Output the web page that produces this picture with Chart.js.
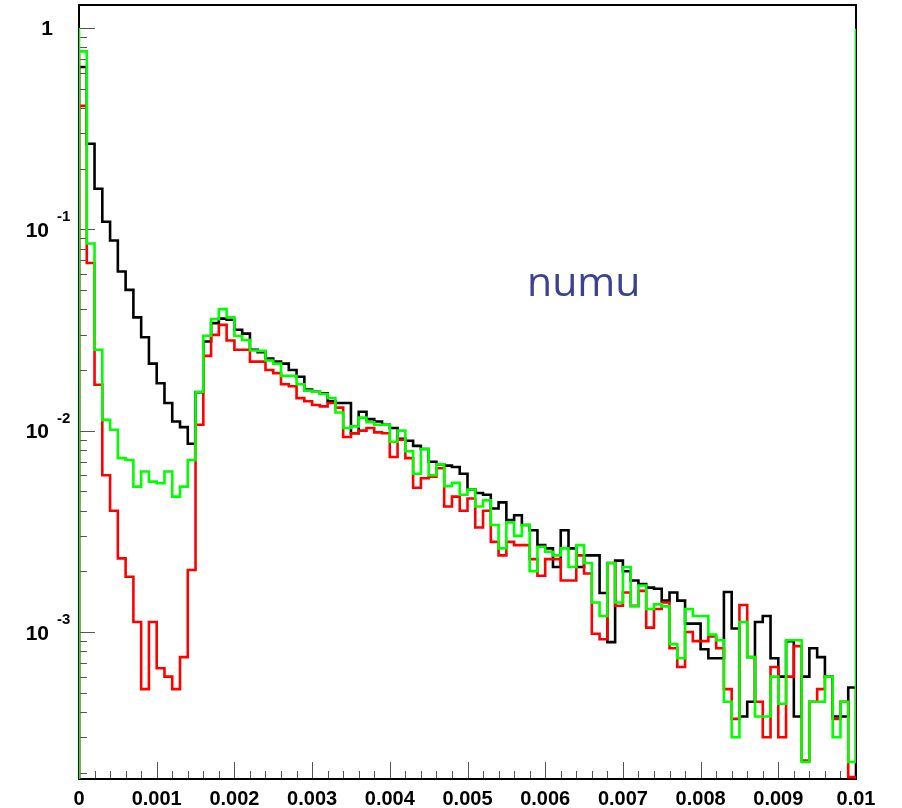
<!DOCTYPE html>
<html>
<head>
<meta charset="utf-8">
<script src="https://cdn.jsdelivr.net/npm/chart.js@4.4.1/dist/chart.umd.min.js"></script>
<style>
  html, body { margin: 0; padding: 0; background: #fff; }
</style>
</head>
<body>
<canvas id="numuChart" width="902" height="808"></canvas>
<script>
// histogram binning and axis range
const xLow = 0, xHigh = 0.01, nBins = 100;
const yLow = 1.86e-4, yHigh = 1.3;

const blackVals = [
  0.64, 0.266, 0.159, 0.109, 0.088, 0.0617, 0.050, 0.0365, 0.0291, 0.0215,
  0.0172, 0.0137, 0.0111, 0.0104, 0.0086, 0.0155, 0.0277, 0.0342, 0.036, 0.0355,
  0.0317, 0.0303, 0.0252, 0.0245, 0.0228, 0.0220, 0.0215, 0.0200, 0.0185, 0.0160,
  0.0156, 0.0153, 0.0140, 0.0137, 0.0137, 0.0097, 0.0124, 0.0114, 0.0111, 0.0107,
  0.0103, 0.0091, 0.0089, 0.0084, 0.0081, 0.0070, 0.0068, 0.0067, 0.0066, 0.0061,
  0.0051, 0.0049, 0.0048, 0.0041, 0.0044, 0.0036, 0.0038, 0.0034, 0.0032, 0.0027,
  0.0026, 0.0021, 0.0032, 0.0026, 0.0021, 0.0024, 0.0024, 0.00156, 0.00089, 0.00226,
  0.0020, 0.0018, 0.00173, 0.00166, 0.00164, 0.00143, 0.00157, 0.00143, 0.0011, 0.0011,
  0.00082, 0.00074, 0.00074, 0.00158, 0.00104, 0.00038, 0.00045, 0.00112, 0.0012, 0.00074,
  0.0006, 0.0009, 0.00038, 0.0006, 0.00083, 0.00075, 0.0006, 0.00038, 0.00038, 0.00053
];

const redVals = [
  0.41, 0.068, 0.0169, 0.0060, 0.0040, 0.00232, 0.00188, 0.00112, 0.00052, 0.00112,
  0.00066, 0.0006, 0.00052, 0.00075, 0.00203, 0.0107, 0.0235, 0.0299, 0.0335, 0.028,
  0.0252, 0.0252, 0.022, 0.022, 0.020, 0.0193, 0.017, 0.0166, 0.0145, 0.0140,
  0.0134, 0.0132, 0.0137, 0.0130, 0.0093, 0.0097, 0.0100, 0.0103, 0.0098, 0.0097,
  0.0074, 0.0090, 0.0073, 0.0052, 0.0058, 0.0059, 0.0065, 0.0042, 0.0047, 0.0040,
  0.0046, 0.0033, 0.0040, 0.0028, 0.0024, 0.0028, 0.0027, 0.0027, 0.0023, 0.0019,
  0.0023, 0.0023, 0.0018, 0.0018, 0.0024, 0.00195, 0.00098, 0.00092, 0.0022, 0.00135,
  0.00157, 0.00135, 0.0016, 0.00105, 0.0013, 0.0014, 0.00083, 0.00067, 0.001, 0.0009,
  0.0009, 0.00095, 0.00083, 0.00052, 0.00037, 0.00136, 0.00075, 0.00045, 0.0003, 0.00067,
  0.0003, 0.0006, 0.00085, 0.00023, 0.00045, 0.00052, 0.0006, 0.00037, 0.00045, 0.00019
];

const greenVals = [
  0.765, 0.085, 0.0252, 0.0113, 0.0101, 0.0073, 0.00715, 0.00527, 0.00626, 0.00558,
  0.00548, 0.00626, 0.0047, 0.00527, 0.00715, 0.0156, 0.0296, 0.0358, 0.0401, 0.0365,
  0.0295, 0.0282, 0.0250, 0.0249, 0.0223, 0.0215, 0.0187, 0.0187, 0.0170, 0.0158,
  0.0156, 0.0152, 0.0145, 0.0123, 0.0103, 0.0105, 0.0116, 0.0110, 0.0107, 0.0107,
  0.0088, 0.0100, 0.0079, 0.0061, 0.0081, 0.0060, 0.0068, 0.0053, 0.0055, 0.0048,
  0.0051, 0.0042, 0.0045, 0.0034, 0.0026, 0.0035, 0.0030, 0.0034, 0.0020, 0.00265,
  0.0025, 0.0024, 0.0026, 0.0021, 0.0027, 0.0022, 0.0014, 0.0012, 0.0022, 0.0014,
  0.0021, 0.00134, 0.0017, 0.0013, 0.00137, 0.00134, 0.00087, 0.00074, 0.0013, 0.0012,
  0.0012, 0.00097, 0.00091, 0.00045, 0.0003, 0.00112, 0.00075, 0.00038, 0.00038, 0.0006,
  0.00044, 0.00091, 0.00091, 0.000226, 0.00045, 0.00045, 0.0006, 0.0003, 0.00045, 0.000226
];

// spikes drawn at the left / right edge of the histograms (null = none)
const blackEdge = [null, null];
const redEdge = [0.75, null];
const greenEdge = [1.0, 0.99];

const xTicks = [0, 0.001, 0.002, 0.003, 0.004, 0.005, 0.006, 0.007, 0.008, 0.009, 0.01];
const xMinorStep = 0.0002;
const yDecades = [0, -1, -2, -3];
const plotLabel = 'numu';

const labelFont = '"Liberation Sans Narrow", "Liberation Sans", sans-serif';

function histPoints(vals, edge) {
  const w = (xHigh - xLow) / nBins;
  const pts = [{ x: xLow, y: yLow }];
  if (edge[0] != null) pts.push({ x: xLow, y: edge[0] });
  vals.forEach((v, i) => pts.push({ x: xLow + i * w, y: v }));
  pts.push({ x: xHigh, y: vals[vals.length - 1] });
  pts.push({ x: xHigh, y: edge[1] != null ? edge[1] : yLow });
  return pts;
}

// ROOT style frame, inner ticks and y labels with exponents
const rootAxes = {
  id: 'rootAxes',
  beforeDatasetsDraw(chart) {
    const ctx = chart.ctx, a = chart.chartArea;
    const xs = chart.scales.x, ys = chart.scales.y;
    ctx.save();
    ctx.strokeStyle = '#555';
    ctx.lineWidth = 1;
    ctx.beginPath();
    const nMinor = Math.round((xHigh - xLow) / xMinorStep);
    for (let k = 0; k <= nMinor; k++) {
      const px = Math.round(xs.getPixelForValue(xLow + k * xMinorStep)) + 0.5;
      const len = k % 5 === 0 ? 17 : 8;
      ctx.moveTo(px, a.bottom);
      ctx.lineTo(px, a.bottom - len);
    }
    for (let d = -4; d <= 0; d++) {
      for (let m = 1; m <= 9; m++) {
        const v = m * Math.pow(10, d);
        if (v < yLow || v > yHigh) continue;
        const py = Math.round(ys.getPixelForValue(v)) + 0.5;
        ctx.moveTo(a.left, py);
        ctx.lineTo(a.left + (m === 1 ? 16 : 8), py);
      }
    }
    ctx.stroke();
    ctx.strokeStyle = '#000';
    ctx.lineWidth = 2;
    ctx.strokeRect(a.left, a.top, a.right - a.left, a.bottom - a.top);
    ctx.restore();
  },
  afterDatasetsDraw(chart) {
    const ctx = chart.ctx, ys = chart.scales.y;
    ctx.save();
    ctx.fillStyle = '#000';
    ctx.textBaseline = 'middle';
    yDecades.forEach(e => {
      const py = ys.getPixelForValue(Math.pow(10, e));
      ctx.font = 'bold 21px ' + labelFont;
      ctx.textAlign = 'right';
      if (e === 0) {
        ctx.fillText('1', 53, py + 1);
      } else {
        ctx.fillText('10', 49, py + 2);
        ctx.font = 'bold 15px ' + labelFont;
        ctx.textAlign = 'left';
        ctx.fillText(String(e), 57, py - 12);
      }
    });
    ctx.font = '500 41px "Open Sans"';
    ctx.fillStyle = '#3c4292';
    ctx.textAlign = 'left';
    ctx.textBaseline = 'alphabetic';
    ctx.fillText(plotLabel, 527, 296);
    ctx.restore();
  }
};

const common = { borderWidth: 2.6, pointRadius: 0, stepped: true, fill: false, tension: 0 };

new Chart(document.getElementById('numuChart'), {
  type: 'line',
  data: {
    datasets: [
      Object.assign({ label: 'black', data: histPoints(blackVals, blackEdge), borderColor: '#000000', order: 2 }, common),
      Object.assign({ label: 'red', data: histPoints(redVals, redEdge), borderColor: '#ff0000', order: 1 }, common),
      Object.assign({ label: 'green', data: histPoints(greenVals, greenEdge), borderColor: '#00ff00', order: 0 }, common)
    ]
  },
  options: {
    responsive: false,
    animation: false,
    layout: { padding: { top: 5, right: 46, bottom: 0, left: 0 } },
    plugins: { legend: { display: false }, tooltip: { enabled: false } },
    scales: {
      x: {
        type: 'linear',
        min: xLow,
        max: xHigh,
        grid: { display: false, drawTicks: false },
        border: { display: false },
        afterFit: s => { s.height = 29; },
        afterBuildTicks: s => { s.ticks = xTicks.map(v => ({ value: v })); },
        ticks: {
          color: '#000',
          padding: 8,
          autoSkip: false,
          maxRotation: 0,
          font: { family: labelFont, weight: 'bold', size: 20 },
          callback: v => String(Number(v.toFixed(4)))
        }
      },
      y: {
        type: 'logarithmic',
        min: yLow,
        max: yHigh,
        grid: { display: false, drawTicks: false },
        border: { display: false },
        ticks: { display: false },
        afterFit: s => { s.width = 79; }
      }
    }
  },
  plugins: [rootAxes]
});
</script>
</body>
</html>
